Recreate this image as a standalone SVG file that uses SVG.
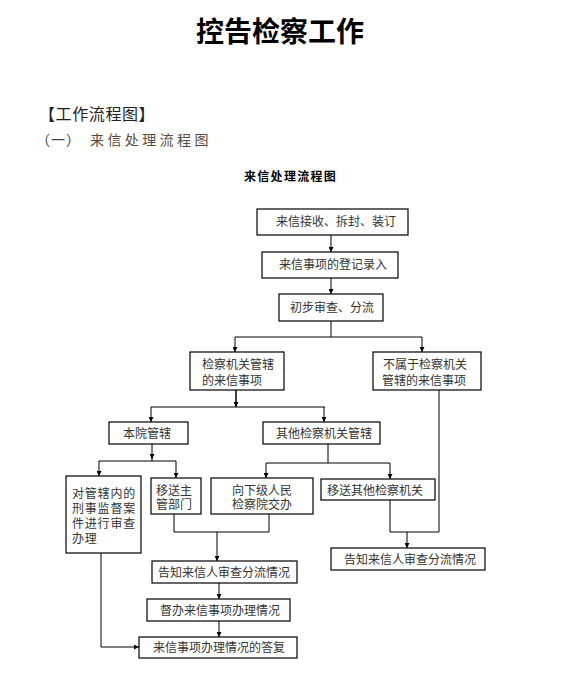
<svg xmlns="http://www.w3.org/2000/svg" width="574" height="681" viewBox="0 0 574 681">
<defs>
<marker id="ah" viewBox="0 0 10 10" refX="10" refY="5" markerWidth="5" markerHeight="5" markerUnits="userSpaceOnUse" orient="auto">
<path d="M0,0 L10,5 L0,10 z" fill="#000"/>
</marker>
<style>
.box{fill:#fff;stroke:#000;stroke-width:1.2}
.t{font-family:"Liberation Serif","Noto Sans CJK SC",serif;font-size:12px;fill:#333}
.c{text-anchor:middle}
.ln{fill:none;stroke:#000;stroke-width:1}
.ar{fill:none;stroke:#000;stroke-width:1;marker-end:url(#ah)}
</style>
</defs>
<rect width="574" height="681" fill="#fff"/>
<text x="280" y="42" text-anchor="middle" style="font-family:'Liberation Serif','Noto Sans CJK SC',serif;font-size:28px;font-weight:bold;fill:#000">控告检察工作</text>
<text x="39" y="120" style="font-family:'Liberation Sans','Noto Sans CJK SC',sans-serif;font-size:16px;fill:#222;letter-spacing:0.6px">【工作流程图】</text>
<text x="36" y="145" style="font-family:'Liberation Serif','Noto Sans CJK SC',serif;font-size:14px;fill:#444;letter-spacing:1px">（一）</text>
<text x="90" y="145" style="font-family:'Liberation Serif','Noto Sans CJK SC',serif;font-size:14px;fill:#5a4a3a;letter-spacing:3.4px">来信处理流程图</text>
<text x="244" y="181" style="font-family:'Liberation Sans','Noto Sans CJK SC',sans-serif;font-size:12px;font-weight:bold;fill:#000;letter-spacing:1.3px">来信处理流程图</text>

<g id="connectors">
<path class="ar" d="M331,235 V252"/>
<path class="ar" d="M331,278 V294"/>
<path class="ln" d="M331,321 V337 M235,337 H422"/>
<path class="ar" d="M235,337 V352"/>
<path class="ar" d="M422,337 V352"/>
<path class="ln" d="M236,390 V407 M151,407 H325"/>
<path class="ar" d="M236,390 V407"/>
<path class="ar" d="M151,407 V422"/>
<path class="ar" d="M324,407 V422"/>
<path class="ar" d="M152,444 V459"/>
<path class="ln" d="M152,458 V461 M99,461 H176"/>
<path class="ar" d="M99,461 V476"/>
<path class="ar" d="M176,461 V478"/>
<path class="ln" d="M328,444 V463 M266,463 H390"/>
<path class="ar" d="M266,463 V478"/>
<path class="ar" d="M390,463 V479"/>
<path class="ln" d="M174,514 V532 H269 V514"/>
<path class="ar" d="M217,532 V561"/>
<path class="ar" d="M219,583 V599"/>
<path class="ar" d="M219,621 V637"/>
<path class="ar" d="M101,553 V647 H139"/>
<path class="ln" d="M439,390 V532 H390 V500"/>
<path class="ar" d="M407,532 V548"/>
</g>

<g id="n1"><rect class="box" x="257" y="209" width="151" height="26"/><text class="t c" x="336" y="226">来信接收、拆封、装订</text></g>
<g id="n2"><rect class="box" x="262" y="252" width="136" height="26"/><text class="t c" x="333" y="269">来信事项的登记录入</text></g>
<g id="n3"><rect class="box" x="279" y="294" width="104" height="27"/><text class="t c" x="332" y="312">初步审查、分流</text></g>
<g id="n4"><rect class="box" x="190" y="352" width="94" height="38"/><text class="t" x="202" y="369">检察机关管辖</text><text class="t" x="202" y="385">的来信事项</text></g>
<g id="n5"><rect class="box" x="373" y="352" width="108" height="38"/><text class="t" x="383" y="369">不属于检察机关</text><text class="t" x="382" y="385">管辖的来信事项</text></g>
<g id="n6"><rect class="box" x="109" y="422" width="79" height="22"/><text class="t c" x="147" y="438">本院管辖</text></g>
<g id="n7"><rect class="box" x="263" y="422" width="117" height="22"/><text class="t c" x="324" y="438">其他检察机关管辖</text></g>
<g id="n8"><rect class="box" x="66" y="476" width="75" height="77"/><text class="t" x="72" y="498" style="letter-spacing:0.8px">对管辖内的</text><text class="t" x="72" y="513" style="letter-spacing:0.8px">刑事监督案</text><text class="t" x="72" y="528" style="letter-spacing:0.8px">件进行审查</text><text class="t" x="72" y="543" style="letter-spacing:0.8px">办理</text></g>
<g id="n9"><rect class="box" x="151" y="478" width="50" height="36"/><text class="t" x="156" y="495">移送主</text><text class="t" x="156" y="509">管部门</text></g>
<g id="n10"><rect class="box" x="211" y="478" width="102" height="36"/><text class="t c" x="262" y="495">向下级人民</text><text class="t c" x="262" y="509">检察院交办</text></g>
<g id="n11"><rect class="box" x="321" y="479" width="114" height="21"/><text class="t c" x="375" y="495">移送其他检察机关</text></g>
<g id="n12"><rect class="box" x="331" y="548" width="154" height="22"/><text class="t c" x="410" y="564">告知来信人审查分流情况</text></g>
<g id="n13"><rect class="box" x="152" y="561" width="145" height="22"/><text class="t c" x="224" y="577">告知来信人审查分流情况</text></g>
<g id="n14"><rect class="box" x="147" y="599" width="143" height="22"/><text class="t c" x="220" y="615">督办来信事项办理情况</text></g>
<g id="n15"><rect class="box" x="139" y="637" width="158" height="21"/><text class="t c" x="219" y="652">来信事项办理情况的答复</text></g>
</svg>
